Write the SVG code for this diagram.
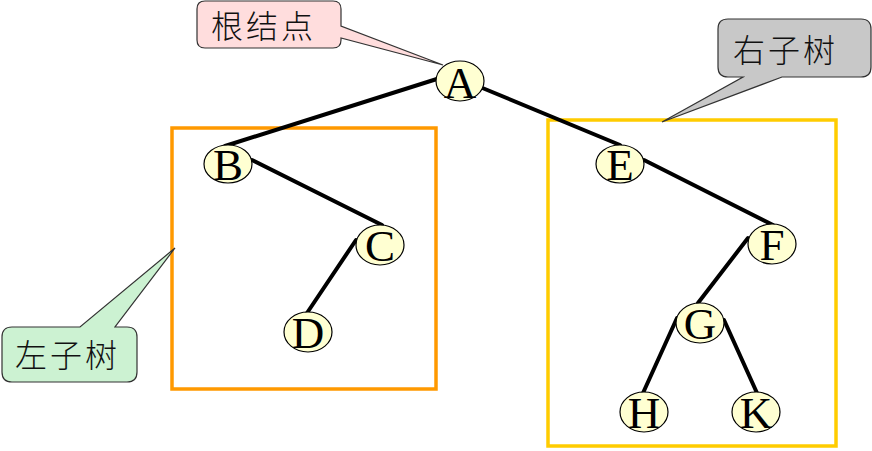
<svg xmlns="http://www.w3.org/2000/svg" width="872" height="451" viewBox="0 0 872 451">
<style>
.frame{fill:none;stroke-width:3.5}
.call{stroke:#333;stroke-width:1.2}
.ct{font-family:"Noto Sans CJK SC","Noto Sans CJK JP",sans-serif;font-size:32px;letter-spacing:3px;fill:#111;font-weight:300}
.edge{stroke:#000;stroke-width:4;stroke-linecap:round;fill:none}
.node ellipse{fill:#FFFFD2;stroke:#000;stroke-width:1.2}
.node text{font-family:"Liberation Serif","DejaVu Serif",serif;font-size:45px;fill:#000;text-anchor:middle}
</style>
<rect width="872" height="451" fill="#fff"/>
<g id="frames">
<rect id="left-frame" class="frame" x="172" y="128" width="264" height="261" stroke="#FF9900"/>
<rect id="right-frame" class="frame" x="548" y="120" width="288" height="326" stroke="#FFCC00"/>
</g>
<g id="callout-root">
<path class="call" fill="#FFDDDD" d="M205,1 H333 Q341,1 341,9 V26 L443,65 L341,38 V40 Q341,48 333,48 H205 Q197,48 197,40 V9 Q197,1 205,1 Z"/>
<text class="ct" x="211" y="38">根结点</text>
</g>
<g id="callout-right">
<path class="call" fill="#C8C8C8" d="M728,19 H861 Q871,19 871,29 V67 Q871,77 861,77 H782 L662,122 L743,77 H728 Q718,77 718,67 V29 Q718,19 728,19 Z"/>
<text class="ct" x="733" y="62">右子树</text>
</g>
<g id="callout-left">
<path class="call" fill="#CCF2D2" d="M12,327 H80 L175,248 L115,327 H127 Q137,327 137,337 V372 Q137,382 127,382 H12 Q2,382 2,372 V337 Q2,327 12,327 Z"/>
<text class="ct" x="15" y="367">左子树</text>
</g>
<g id="connectors">
<line class="edge" x1="440" y1="78" x2="225" y2="146"/>
<line class="edge" x1="480" y1="87" x2="620" y2="145"/>
<line class="edge" x1="252" y1="160" x2="382" y2="225"/>
<line class="edge" x1="356" y1="240" x2="307" y2="313"/>
<line class="edge" x1="644" y1="160" x2="773" y2="225"/>
<line class="edge" x1="748" y1="238" x2="698" y2="303"/>
<line class="edge" x1="677" y1="318" x2="643" y2="393"/>
<line class="edge" x1="724" y1="320" x2="757" y2="393"/>
</g>
<g id="node-A" class="node"><ellipse cx="460" cy="81" rx="24" ry="20"/><text x="460" y="98">A</text></g>
<g id="node-B" class="node"><ellipse cx="228" cy="164" rx="24" ry="19"/><text x="228" y="180">B</text></g>
<g id="node-C" class="node"><ellipse cx="380" cy="245" rx="24" ry="20"/><text x="380" y="261">C</text></g>
<g id="node-D" class="node"><ellipse cx="308" cy="332" rx="24" ry="20"/><text x="308" y="348">D</text></g>
<g id="node-E" class="node"><ellipse cx="620" cy="164" rx="24" ry="19"/><text x="620" y="180">E</text></g>
<g id="node-F" class="node"><ellipse cx="772" cy="244" rx="24" ry="20"/><text x="772" y="260">F</text></g>
<g id="node-G" class="node"><ellipse cx="700" cy="323" rx="24" ry="20"/><text x="700" y="339">G</text></g>
<g id="node-H" class="node"><ellipse cx="644" cy="412" rx="24" ry="20"/><text x="644" y="428">H</text></g>
<g id="node-K" class="node"><ellipse cx="756" cy="412" rx="24" ry="20"/><text x="756" y="428">K</text></g>
</svg>
